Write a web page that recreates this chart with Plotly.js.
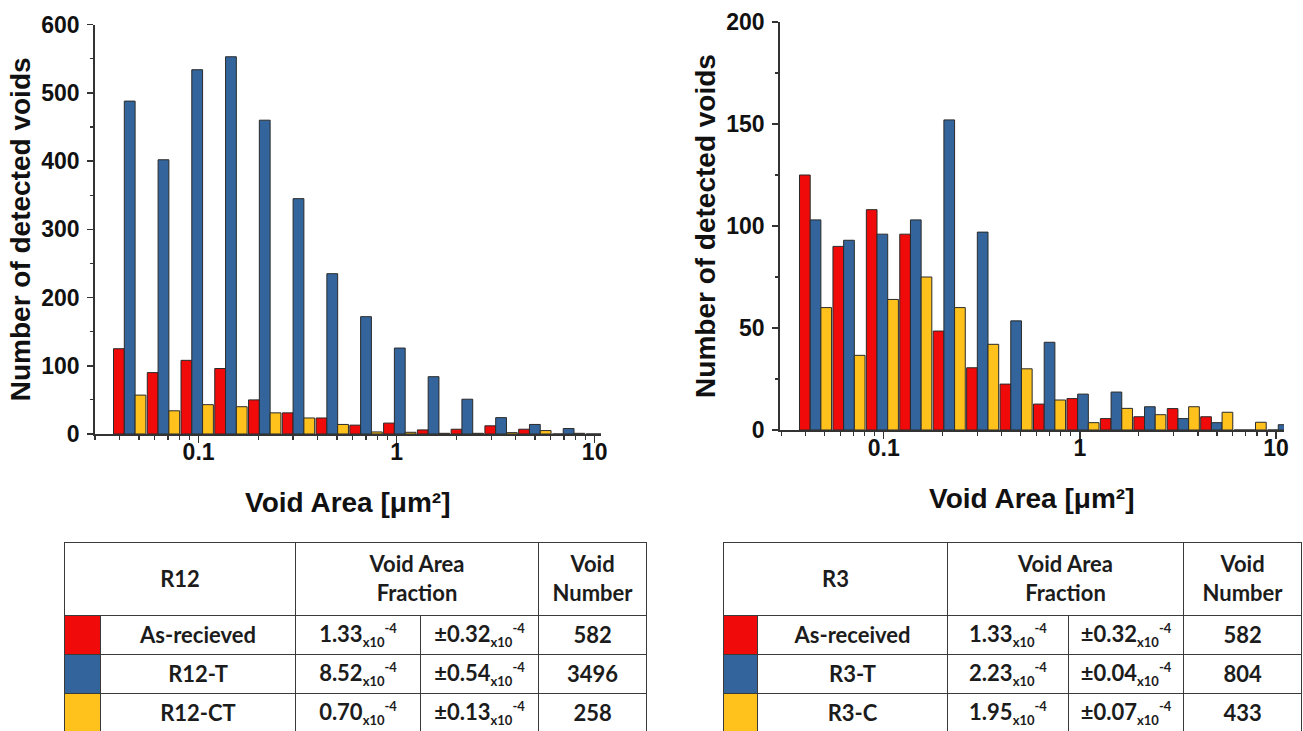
<!DOCTYPE html>
<html>
<head>
<meta charset="utf-8">
<script src="https://cdn.plot.ly/plotly-3.0.1.min.js"></script>
<style>
  html, body { margin:0; padding:0; background:#fff; overflow:hidden; }
  #chart { position:absolute; left:0; top:0; width:1303px; height:731px; }
  table.vt { position:absolute; border-collapse:collapse; table-layout:fixed;
             font-family:"Lato","Open Sans",sans-serif; font-weight:700; font-size:22px; color:#1c1c1c; }
  table.vt td { border:1.5px solid #3a3a3a; text-align:center; vertical-align:middle; padding:0; line-height:1.3; }
  table.vt td.hd { height:72px; }
  table.vt tr.row td { height:38px; line-height:1.1; }
  table.vt sub { font-size:13px; vertical-align:-5px; }
  table.vt sup { font-size:13px; vertical-align:9px; }
</style>
</head>
<body>
<div id="chart"></div>
<script>
// ---------- data ----------
// bin centres of the void-area histogram [µm²]
const binCenters = [0.0449, 0.0665, 0.0984, 0.1457, 0.2158, 0.3195, 0.4732, 0.7006, 1.0375, 1.5364, 2.2751, 3.369, 4.989, 7.388, 10.94];

// R12 panel
const r12Labels = ['As-recieved', 'R12-T', 'R12-CT'];
const r12AsReceived = [125, 90, 108, 96, 50, 31, 23.5, 13, 16, 6, 7, 12, 7, 0, 0];
const r12T          = [488, 402, 534, 553, 460, 345, 235, 172, 126, 84, 51, 24, 14, 8, 0];
const r12CT         = [57, 34, 43, 40, 31, 23.5, 14, 3, 2.5, 1, 1, 2, 5, 1, 0];
const r12Fraction = ['1.33', '8.52', '0.70'];
const r12Error    = ['±0.32', '±0.54', '±0.13'];
const r12Number   = [582, 3496, 258];

// R3 panel
const r3Labels = ['As-received', 'R3-T', 'R3-C'];
const r3AsReceived = [125, 90, 108, 96, 48.5, 30.5, 22.5, 12.7, 15.4, 5.6, 6.5, 10.5, 6.5, 0, 0];
const r3T          = [103, 93, 96, 103, 152, 97, 53.5, 43, 17.6, 18.6, 11.4, 5.6, 3.6, 0, 2.6];
const r3C          = [60, 36.6, 64, 75, 60, 42, 30, 14.7, 3.6, 10.6, 7.5, 11.4, 8.7, 3.8, 0];
const r3Fraction = ['1.33', '2.23', '1.95'];
const r3Error    = ['±0.32', '±0.04', '±0.07'];
const r3Number   = [582, 804, 433];

// x tick labels
const xTickVals = [0.1, 1, 10];
const xTickText = ['0.1', '1', '10'];

// ---------- styling ----------
const colors = ['#F00A0A', '#33659C', '#FFC21C'];
const W = 1303, H = 731;
const barW = 0.0545;             // width of one bar in decades
const offsets = [-1.5*barW, -0.5*barW, 0.5*barW];
const lx = binCenters.map(v => Math.log10(v));

function minorVals() {
  const out = [];
  for (let d = -2; d <= 1; d++) for (let n = 2; n <= 9; n++) out.push(Math.log10(n * Math.pow(10, d)));
  return out;
}

function traces(series, xa, ya) {
  return series.map((s, i) => ({
    type: 'bar', x: lx, y: s, xaxis: xa, yaxis: ya,
    width: barW, offset: offsets[i],
    marker: { color: colors[i], line: { color: '#2a2a2a', width: 1 } },
    showlegend: false, hoverinfo: 'y'
  }));
}

const data = [
  ...traces([r12AsReceived, r12T, r12CT], 'x', 'y'),
  ...traces([r3AsReceived, r3T, r3C], 'x2', 'y2')
];

const tickFont = { family: 'Liberation Sans, Arial, sans-serif', size: 23, weight: 'bold', color: '#111' };
const titleFont = { family: 'Liberation Sans, Arial, sans-serif', size: 28, weight: 'bold', color: '#111' };

function xAxis(domain, range) {
  return {
    domain: domain, range: range, type: 'linear',
    tickmode: 'array', tickvals: xTickVals.map(v => Math.log10(v)), ticktext: xTickText,
    ticks: 'outside', ticklen: 7, tickwidth: 1.5, tickcolor: '#333',
    minor: { tickmode: 'array', tickvals: minorVals(), ticks: 'outside', ticklen: 4, tickwidth: 1.2, tickcolor: '#333' },
    showline: true, linecolor: '#333', linewidth: 1.5,
    showgrid: false, zeroline: false, tickfont: tickFont, ticklabelstandoff: -10,
    title: { text: 'Void Area [μm²]', font: titleFont, standoff: 28 },
    automargin: false, fixedrange: true
  };
}
function yAxis(domain, range, dtick, anchor) {
  return {
    domain: domain, range: range, anchor: anchor,
    tickmode: 'linear', tick0: 0, dtick: dtick,
    ticks: 'outside', ticklen: 6, tickwidth: 1.5, tickcolor: '#333',
    minor: { dtick: dtick/2, ticks: 'outside', ticklen: 3, tickwidth: 1.2, tickcolor: '#333' },
    showline: true, linecolor: '#333', linewidth: 1.5,
    showgrid: false, zeroline: false, tickfont: tickFont, ticklabelstandoff: 3,
    title: { text: 'Number of detected voids', font: titleFont, standoff: 2 },
    automargin: false, fixedrange: true
  };
}

const layout = {
  width: W, height: H,
  margin: { l: 0, r: 0, t: 0, b: 0 },
  paper_bgcolor: '#fff', plot_bgcolor: 'rgba(0,0,0,0)',
  barmode: 'overlay', showlegend: false,
  xaxis: Object.assign(xAxis([94.6/W, 601/W], [-1.525, 1.032]), { anchor: 'y' }),
  yaxis: yAxis([1 - 434/H, 1 - 24.7/H], [0, 600], 100, 'x'),
  xaxis2: Object.assign(xAxis([779.6/W, 1284/W], [-1.531, 1.041]), { anchor: 'y2' }),
  yaxis2: yAxis([1 - 430/H, 1 - 22/H], [0, 200], 50, 'x2')
};

Plotly.newPlot('chart', data, layout, { displayModeBar: false, staticPlot: true });

// ---------- tables ----------
function buildTable(left, top, colW, name, labels, frac, err, num) {
  const t = document.createElement('table');
  t.className = 'vt';
  t.style.left = left + 'px';
  t.style.top = top + 'px';
  const total = colW.reduce((a, b) => a + b, 0);
  t.style.width = total + 'px';
  let html = '<colgroup>' + colW.map(w => '<col style="width:' + w + 'px">').join('') + '</colgroup>';
  html += '<tr><td class="hd" colspan="2">' + name + '</td><td class="hd" colspan="2">Void Area<br>Fraction</td><td class="hd">Void<br>Number</td></tr>';
  for (let i = 0; i < labels.length; i++) {
    html += '<tr class="row"><td style="background:' + colors[i] + '"></td><td>' + labels[i] + '</td>' +
            '<td>' + frac[i] + '<sub>x10</sub><sup>-4</sup></td>' +
            '<td>' + err[i] + '<sub>x10</sub><sup>-4</sup></td>' +
            '<td>' + num[i] + '</td></tr>';
  }
  t.innerHTML = html;
  document.body.appendChild(t);
}
buildTable(64, 542, [36, 195, 125, 118, 108], 'R12', r12Labels, r12Fraction, r12Error, r12Number);
buildTable(723, 542, [34, 190, 121, 115, 118], 'R3', r3Labels, r3Fraction, r3Error, r3Number);
</script>
</body>
</html>
